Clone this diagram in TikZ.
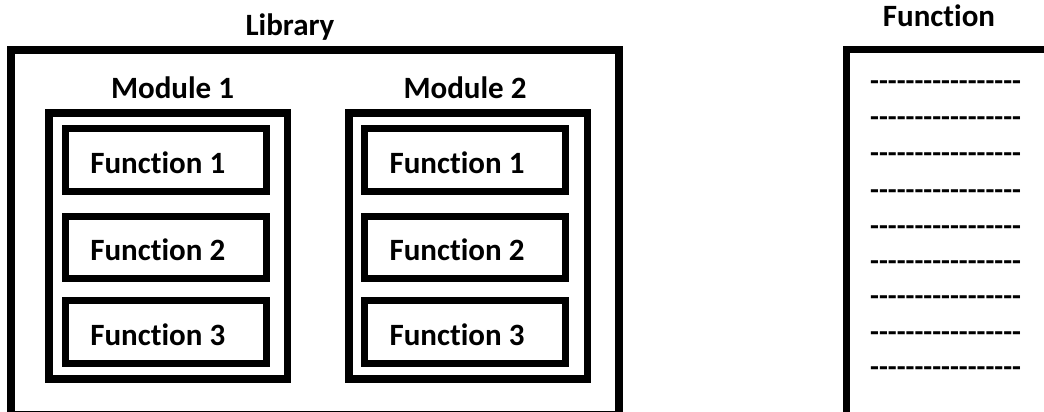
\documentclass[tikz,border=0pt]{standalone}
\usepackage{fontspec}
\setmainfont{Carlito}[Ligatures={NoCommon}]
\begin{document}
\begin{tikzpicture}[x=1pt,y=-1pt,
  libbox/.style={draw=black,line width=8pt},
  modbox/.style={draw=black,line width=7.5pt},
  funbox/.style={draw=black,line width=7pt},
  lbl/.style={inner sep=0pt,anchor=base,font=\fontsize{31}{37}\selectfont\bfseries},
  dashtxt/.style={inner sep=0pt,anchor=base west,font=\fontsize{29}{35}\selectfont\bfseries}]
\useasboundingbox (0,0) rectangle (1044,412);
% Library
\draw[libbox] (11,50) rectangle (619,415);
\node[lbl] (libt) at (290,36) {Library};
% Modules
\draw[modbox] (49,113) rectangle (287.5,379);
\draw[modbox] (349,113) rectangle (587.5,379);
\node[lbl] (m1t) at (172.5,98) {Module 1};
\node[lbl] (m2t) at (465,98) {Module 2};
% Function boxes
\foreach \xa/\xb/\m in {65.5/266/1,364.5/565.5/2}{
  \foreach \ya/\yb/\f in {128.5/191.5/1,216.5/278.5/2,300.5/363.5/3}{
    \draw[funbox] (\xa,\ya) rectangle (\xb,\yb);
    \node[lbl] (f\m\f) at ({(\xa+\xb)/2-8},{(\ya+\yb)/2+13}) {Function \f};
  }
}
% Function panel
\draw[funbox] (846.5,49.5) rectangle (1060,416);
\node[lbl] (ft) at (939,27) {Function};
\foreach \y [count=\i] in {82,118,154,191,227,262,297,333,368}{
  \node[dashtxt] (d\i) at (870,\y+8) {-{}-{}-{}-{}-{}-{}-{}-{}-{}-{}-{}-{}-{}-{}-{}-{}-};
}
\end{tikzpicture}
\end{document}
